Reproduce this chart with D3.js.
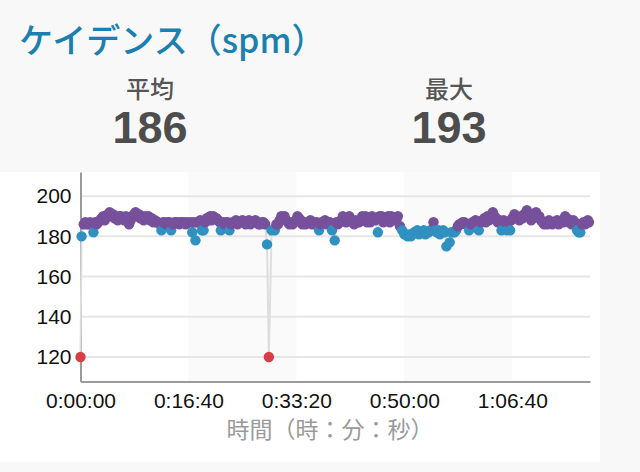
<!DOCTYPE html>
<html>
<head>
<meta charset="utf-8">
<script src="https://cdn.jsdelivr.net/npm/d3@7"></script>
<style>
  html, body { margin: 0; padding: 0; background: #f8f8f8; }
  svg { display: block; }
</style>
</head>
<body>
<div id="chart"></div>
<script>
const titleText = "ケイデンス（spm）";
const statLabels = ["平均", "最大"];
const statValues = [186, 193];
const xAxisTitle = "時間（時：分：秒）";
const xTickSeconds = [0, 1000, 2000, 3000, 4000];
const yTickValues = [120, 140, 160, 180, 200];

const elapsedSec = [
  0, 10, 30, 60, 90, 120, 150, 180, 210, 240, 270, 300, 330, 360, 390, 420, 450, 480, 510, 540,
  570, 600, 630, 660, 690, 720, 750, 780, 810, 840, 870, 900, 930, 960, 990, 1020, 1035, 1050, 1065, 1080,
  1110, 1125, 1140, 1170, 1200, 1230, 1260, 1290, 1300, 1320, 1350, 1380, 1410, 1440, 1470, 1500, 1530, 1560, 1590, 1620,
  1650, 1680, 1710, 1728, 1745, 1770, 1800, 1830, 1860, 1890, 1920, 1950, 1980, 2010, 2040, 2070, 2100, 2130, 2160, 2190,
  2210, 2220, 2250, 2280, 2310, 2330, 2355, 2370, 2400, 2430, 2460, 2490, 2520, 2550, 2580, 2610, 2640, 2670, 2700, 2730,
  2755, 2770, 2790, 2820, 2850, 2880, 2910, 2940, 2960, 2980, 3000, 3030, 3060, 3090, 3120, 3150, 3180, 3210, 3240, 3270,
  3300, 3330, 3360, 3390, 3420, 3450, 3480, 3510, 3540, 3570, 3600, 3630, 3660, 3690, 3710, 3740, 3770, 3800, 3820, 3850,
  3880, 3900, 3920, 3950, 3980, 4000, 4020, 4050, 4080, 4110, 4135, 4160, 4190, 4220, 4250, 4280, 4310, 4340, 4370, 4400,
  4430, 4460, 4490, 4520, 4550, 4580, 4600, 4630, 4660, 4690, 4710
];
const cadence = [
  120, 180, 186, 186, 187, 182, 186, 188, 190, 190, 192, 191, 190, 190, 189, 190, 186, 190, 192, 191,
  190, 190, 190, 189, 188, 187, 183, 187, 187, 183, 187, 187, 187, 187, 187, 187, 182, 187, 178, 187,
  188, 183, 183, 189, 190, 190, 189, 187, 183, 187, 187, 183, 187, 188, 187, 188, 186, 188, 187, 188,
  186, 187, 186, 176, 120, 183, 183, 186, 190, 190, 187, 187, 187, 190, 188, 187, 187, 188, 187, 187,
  183, 186, 187, 186, 187, 183, 178, 187, 187, 190, 187, 190, 187, 188, 187, 190, 190, 189, 190, 188,
  182, 190, 190, 189, 190, 190, 188, 190, 185, 183, 181, 180, 180, 182, 183, 182, 183, 182, 183, 187,
  182, 181, 183, 175, 177, 182, 183, 186, 187, 186, 183, 187, 188, 183, 187, 189, 190, 189, 192, 189,
  188, 183, 188, 183, 183, 189, 191, 189, 190, 191, 193, 190, 189, 192, 190, 187, 187, 188, 186, 187,
  186, 188, 190, 187, 186, 187, 183, 182, 187, 187, 187
];
// additional in-between samples
const extraSec = [
  45, 75, 105, 135, 165, 195, 225, 255, 285, 315, 345, 375, 405, 435, 465, 495, 525, 555, 585, 615,
  645, 675, 705, 735, 765, 795, 825, 855, 885, 915, 945, 975, 1095, 1155, 1185, 1215, 1245, 1275, 1335, 1365,
  1395, 1425, 1455, 1485, 1515, 1545, 1575, 1605, 1635, 1665, 1695, 1815, 1845, 1875, 1905, 1935, 1965, 1995, 2025, 2055,
  2085, 2115, 2145, 2175, 2235, 2265, 2295, 2385, 2415, 2445, 2475, 2505, 2535, 2565, 2595, 2625, 2655, 2685, 2715, 2805,
  2835, 2865, 2895, 2925, 3015, 3045, 3075, 3105, 3135, 3165, 3195, 3225, 3255, 3285, 3315, 3345, 3375, 3435, 3465, 3495,
  3525, 3555, 3585, 3615, 3645, 3675, 3725, 3755, 3785, 3835, 3865, 3935, 3965, 3990, 4035, 4065, 4095, 4120, 4150, 4175,
  4205, 4235, 4265, 4295, 4325, 4355, 4385, 4415, 4445, 4475, 4505, 4535, 4565, 4615, 4645, 4675, 4700
];
const extraCadence = [
  187, 186, 186, 187, 187, 189, 188, 191, 190, 189, 188, 190, 188, 189, 188, 191, 190, 189, 188, 189,
  188, 187, 187, 186, 187, 186, 187, 186, 187, 186, 187, 186, 187, 187, 188, 188, 189, 188, 186, 187,
  186, 187, 186, 187, 187, 187, 186, 187, 187, 186, 187, 186, 188, 189, 188, 186, 186, 188, 189, 186,
  186, 187, 186, 186, 187, 188, 187, 186, 188, 188, 188, 188, 186, 187, 188, 188, 187, 187, 189, 187,
  188, 187, 189, 188, 181, 181, 181, 182, 181, 182, 181, 182, 183, 183, 183, 182, 182, 182, 182, 185,
  186, 187, 186, 186, 187, 187, 188, 187, 188, 190, 187, 187, 187, 188, 190, 188, 189, 190, 191, 188,
  190, 190, 188, 186, 186, 187, 187, 188, 187, 187, 189, 188, 188, 182, 186, 186, 188
];

const W = 640, H = 472;
const svg = d3.select("#chart").append("svg").attr("width", W).attr("height", H);

// white chart panel
svg.append("rect").attr("x", 0).attr("y", 172).attr("width", 600).attr("height", 290).attr("fill", "#ffffff");

// header
svg.append("text").attr("x", 19).attr("y", 38).attr("dominant-baseline", "central")
  .attr("font-family", "'Noto Sans CJK JP', sans-serif").attr("font-size", 34).attr("font-weight", 500)
  .attr("fill", "#1b7fb0").text(titleText);

const statX = [150, 449];
statLabels.forEach((lab, i) => {
  svg.append("text").attr("x", statX[i]).attr("y", 87).attr("text-anchor", "middle").attr("dominant-baseline", "central")
    .attr("font-family", "'Noto Sans CJK JP', sans-serif").attr("font-size", 24).attr("font-weight", 500)
    .attr("fill", "#555").text(lab);
  svg.append("text").attr("x", statX[i]).attr("y", 143).attr("text-anchor", "middle")
    .attr("font-family", "'Liberation Sans', Arial, sans-serif").attr("font-size", 45).attr("font-weight", 700)
    .attr("fill", "#4d4d4d").text(statValues[i]);
});

const plotL = 80.5, plotR = 590, plotT = 172, plotB = 381.5;
const x = d3.scaleLinear().domain([0, 4720]).range([plotL, plotR]);
const y = d3.scaleLinear().domain([107.8, 212]).range([plotB, plotT]);

// alternating bands
const bandStarts = xTickSeconds.filter((d, i) => i % 2 === 1);
svg.selectAll("rect.band").data(bandStarts).enter().append("rect")
  .attr("class", "band")
  .attr("x", d => x(d)).attr("y", plotT)
  .attr("width", d => Math.min(x(d + 1000), plotR) - x(d)).attr("height", plotB - plotT)
  .attr("fill", "#fafafa");

// gridlines
svg.selectAll("line.grid").data(yTickValues).enter().append("line")
  .attr("x1", plotL).attr("x2", plotR).attr("y1", d => y(d)).attr("y2", d => y(d))
  .attr("stroke", "#e6e6e6").attr("stroke-width", 2);

// axes
const fmt = s => {
  const h = Math.floor(s / 3600), m = Math.floor((s % 3600) / 60), sec = s % 60;
  return h + ":" + String(m).padStart(2, "0") + ":" + String(sec).padStart(2, "0");
};
const xAxis = svg.append("g").attr("transform", `translate(0,${plotB})`)
  .call(d3.axisBottom(x).tickValues(xTickSeconds).tickFormat(fmt).tickSize(0).tickPadding(12));
xAxis.select(".domain").attr("stroke", "#9a9a9a").attr("stroke-width", 2);
xAxis.selectAll("text").attr("font-family", "'Liberation Sans', Arial, sans-serif").attr("font-size", 21).attr("fill", "#111");

const yAxis = svg.append("g").attr("transform", `translate(${plotL},0)`)
  .call(d3.axisLeft(y).tickValues(yTickValues).tickSize(0).tickPadding(9));
yAxis.select(".domain").attr("stroke", "#9a9a9a").attr("stroke-width", 2);
yAxis.selectAll("text").attr("font-family", "'Liberation Sans', Arial, sans-serif").attr("font-size", 21).attr("fill", "#111");

svg.append("text").attr("x", 330).attr("y", 428).attr("text-anchor", "middle").attr("dominant-baseline", "central")
  .attr("font-family", "'Noto Sans CJK JP', sans-serif").attr("font-size", 23)
  .attr("fill", "#9a9a9a").text(xAxisTitle);

// data
const pts = elapsedSec.map((t, i) => ({ t, v: cadence[i] }))
  .concat(extraSec.map((t, i) => ({ t, v: extraCadence[i] })))
  .sort((a, b) => a.t - b.t);
const zoneColor = v => v > 183 ? "#77509c" : v >= 174 ? "#3090bf" : v >= 164 ? "#5cb85c" : v >= 153 ? "#f0ad4e" : "#d63f45";

svg.append("path").datum(pts)
  .attr("d", d3.line().x(d => x(d.t)).y(d => y(d.v)))
  .attr("fill", "none").attr("stroke", "#dddddd").attr("stroke-width", 2);

svg.selectAll("circle.pt").data(pts).enter().append("circle")
  .attr("class", "pt")
  .attr("cx", d => x(d.t)).attr("cy", d => y(d.v)).attr("r", 5.2)
  .attr("fill", d => zoneColor(d.v));
</script>
</body>
</html>
